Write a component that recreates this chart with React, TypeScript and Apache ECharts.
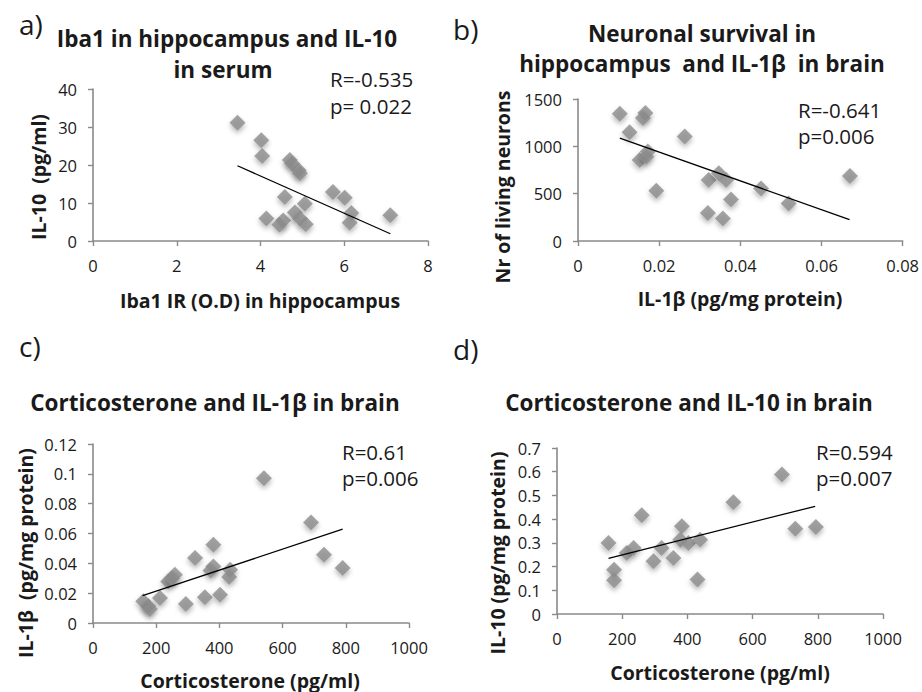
import React, { useEffect, useRef } from "react";
import * as echarts from "echarts";

// Panel a: Iba1 IR (O.D) vs IL-10 serum
const aX = [3.45, 4.02, 4.04, 4.70, 4.75, 4.91, 4.94, 5.73, 6.01, 4.58, 5.06, 6.17, 7.10, 4.14, 4.54, 4.45, 4.82, 4.94, 5.08, 6.13];
const aY = [31.1, 26.5, 22.4, 21.3, 20.4, 18.6, 17.8, 12.9, 11.4, 11.6, 9.8, 7.4, 6.8, 5.9, 5.4, 4.3, 7.5, 5.9, 4.4, 4.8];
const aTrendX = [3.45, 7.1];
const aTrendY = [19.8, 1.9];

// Panel b: IL-1β vs neurons
const bX = [0.0103, 0.0127, 0.0166, 0.016, 0.0152, 0.0172, 0.0168, 0.0193, 0.0263, 0.0322, 0.032, 0.0347, 0.0365, 0.0357, 0.0377, 0.0451, 0.0519, 0.067];
const bY = [1344, 1150, 1351, 1298, 856, 945, 891, 531, 1104, 644, 297, 715, 644, 237, 439, 555, 396, 686];
const bTrendX = [0.0103, 0.0669];
const bTrendY = [1086, 226];

// Panel c: corticosterone vs IL-1β
const cX = [541, 690, 731, 790, 381, 323, 381, 372, 434, 431, 259, 238, 212, 294, 354, 402, 159, 175, 180, 250];
const cY = [0.097, 0.0674, 0.0457, 0.0368, 0.0524, 0.0435, 0.0379, 0.0352, 0.0357, 0.0308, 0.0323, 0.0279, 0.0167, 0.0127, 0.0172, 0.019, 0.0145, 0.0112, 0.0094, 0.03];
const cTrendX = [157, 790];
const cTrendY = [0.0183, 0.0629];

// Panel d: corticosterone vs IL-10
const dX = [158, 175, 175, 214, 235, 260, 296, 321, 357, 383, 378, 403, 439, 431, 541, 690, 731, 794];
const dY = [0.299, 0.187, 0.142, 0.257, 0.278, 0.416, 0.222, 0.278, 0.236, 0.37, 0.313, 0.299, 0.313, 0.145, 0.471, 0.588, 0.36, 0.367];
const dTrendX = [158, 792];
const dTrendY = [0.235, 0.454];

const FONT = "Open Sans";
const AXIS_COLOR = "#8a8a8a";
const TEXT_COLOR = "#1a1a1a";
const MARK_COLOR = "#8c8c8c";

const zip = (xs: number[], ys: number[]) => xs.map((x, i) => [x, ys[i]]);
const fmt = (v: number) => String(parseFloat(v.toPrecision(6)));

export default function App() {
  const ref = useRef<HTMLDivElement>(null);
  useEffect(() => {
    if (!ref.current) return;
    const chart = echarts.init(ref.current, undefined, { renderer: "svg" });

    const grids = [
      { left: 93, top: 89, width: 335, height: 152 },
      { left: 578, top: 99, width: 325, height: 142 },
      { left: 93, top: 444, width: 316, height: 179 },
      { left: 557, top: 448, width: 326, height: 166 },
    ];
    const xRanges = [
      { min: 0, max: 8, interval: 2 },
      { min: 0, max: 0.08, interval: 0.02 },
      { min: 0, max: 1000, interval: 200 },
      { min: 0, max: 1000, interval: 200 },
    ];
    const yRanges = [
      { min: 0, max: 40, interval: 10 },
      { min: 0, max: 1500, interval: 500 },
      { min: 0, max: 0.12, interval: 0.02 },
      { min: 0, max: 0.7, interval: 0.1 },
    ];
    const axisCommon = {
      type: "value",
      splitLine: { show: false },
      axisLine: { show: true, lineStyle: { color: AXIS_COLOR, width: 1.6 } },
      axisTick: { show: true, inside: false, length: 5, lineStyle: { color: AXIS_COLOR, width: 1.4 } },
      axisLabel: {
        color: TEXT_COLOR,
        fontFamily: FONT,
        fontSize: 16.5,
        margin: 16,
        showMinLabel: true,
        showMaxLabel: true,
        formatter: fmt,
      },
    };
    const xAxis = xRanges.map((r, i) => ({ ...axisCommon, ...r, gridIndex: i }));
    const yAxis = yRanges.map((r, i) => ({ ...axisCommon, ...r, gridIndex: i }));

    const pts = [zip(aX, aY), zip(bX, bY), zip(cX, cY), zip(dX, dY)];
    const trends = [zip(aTrendX, aTrendY), zip(bTrendX, bTrendY), zip(cTrendX, cTrendY), zip(dTrendX, dTrendY)];

    const series: any[] = [];
    pts.forEach((p, i) => {
      series.push({
        type: "scatter",
        xAxisIndex: i,
        yAxisIndex: i,
        data: p,
        symbol: "diamond",
        symbolSize: 16,
        itemStyle: {
          color: MARK_COLOR,
          shadowColor: "rgba(0,0,0,0.35)",
          shadowBlur: 5,
          shadowOffsetY: 3,
        },
        z: 2,
      });
      series.push({
        type: "line",
        xAxisIndex: i,
        yAxisIndex: i,
        data: trends[i],
        symbol: "none",
        lineStyle: { color: "#000", width: 1.3 },
        z: 3,
      });
    });

    const txt = (text: string, x: number, y: number, opts: any = {}) => ({
      type: "text",
      x,
      y,
      rotation: opts.rotation || 0,
      style: {
        text,
        fill: TEXT_COLOR,
        fontFamily: FONT,
        fontSize: opts.size || 20.5,
        fontWeight: opts.bold ? "bold" : "normal",
        align: opts.align || "center",
        verticalAlign: "middle",
      },
    });

    const T = 22.5;
    const N = 19.5;
    const graphic = [
      // panel labels
      txt("a)", 19, 24, { size: 28, align: "left" }),
      txt("b)", 453, 29, { size: 28, align: "left" }),
      txt("c)", 19, 346, { size: 28, align: "left" }),
      txt("d)", 453, 349, { size: 28, align: "left" }),
      // titles
      txt("Iba1 in hippocampus and IL-10", 227, 38, { bold: true, size: T }),
      txt("in serum", 223, 69, { bold: true, size: T }),
      txt("Neuronal survival in", 702, 33, { bold: true, size: T }),
      txt("hippocampus  and IL-1β  in brain", 702, 63, { bold: true, size: T }),
      txt("Corticosterone and IL-1β in brain", 215, 402, { bold: true, size: T }),
      txt("Corticosterone and IL-10 in brain", 689, 402, { bold: true, size: T }),
      // x axis names
      txt("Iba1 IR (O.D) in hippocampus", 260, 300, { bold: true, size: N }),
      txt("IL-1β (pg/mg protein)", 740, 298, { bold: true, size: N }),
      txt("Corticosterone (pg/ml)", 250, 680, { bold: true, size: N }),
      txt("Corticosterone (pg/ml)", 720, 672, { bold: true, size: N }),
      // y axis names
      txt("IL-10  (pg/ml)", 38, 177, { bold: true, size: N, rotation: Math.PI / 2 }),
      txt("Nr of living neurons", 502, 187, { bold: true, size: N, rotation: Math.PI / 2 }),
      txt("IL-1β  (pg/mg protein)", 25, 553, { bold: true, size: N, rotation: Math.PI / 2 }),
      txt("IL-10 (pg/mg protein)", 497, 553, { bold: true, size: N, rotation: Math.PI / 2 }),
      // annotations
      txt("R=-0.535", 330, 79, { align: "left" }),
      txt("p= 0.022", 330, 106, { align: "left" }),
      txt("R=-0.641", 798, 110, { align: "left" }),
      txt("p=0.006", 798, 136, { align: "left" }),
      txt("R=0.61", 342, 452, { align: "left" }),
      txt("p=0.006", 342, 478, { align: "left" }),
      txt("R=0.594", 816, 452, { align: "left" }),
      txt("p=0.007", 816, 478, { align: "left" }),
    ];

    chart.setOption({
      animation: false,
      backgroundColor: "#fff",
      grid: grids,
      xAxis,
      yAxis,
      series,
      graphic,
    } as any);

    return () => chart.dispose();
  }, []);

  return (
    <div
      ref={ref}
      style={{ position: "fixed", left: 0, top: 0, width: 922, height: 692, background: "#fff" }}
    />
  );
}
